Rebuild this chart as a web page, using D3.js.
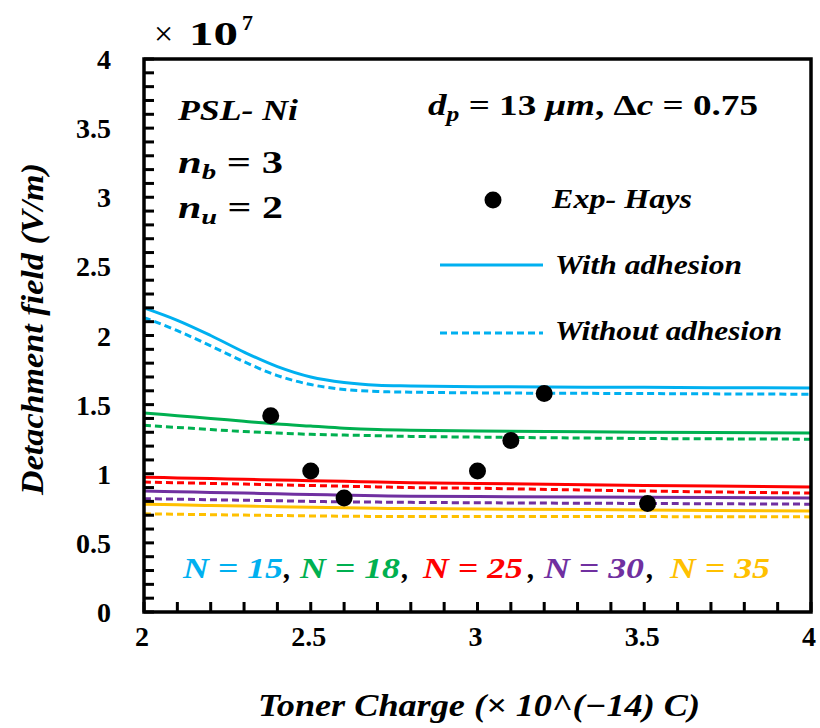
<!DOCTYPE html>
<html>
<head>
<meta charset="utf-8">
<script src="https://cdn.jsdelivr.net/npm/d3@7"></script>
<style>
  html, body { margin: 0; padding: 0; background: #fff; }
  svg { display: block; }
  svg text { font-family: "Liberation Serif"; }
</style>
</head>
<body>
<svg id="chart" width="820" height="728"></svg>
<script>
// ---- data ----
const curveX = [2.0, 2.1, 2.2, 2.3, 2.4, 2.5, 2.6, 2.7, 2.8, 3.0, 3.5, 4.0];
const n15With    = [2.20, 2.11, 2.00, 1.88, 1.775, 1.70, 1.66, 1.64, 1.635, 1.63, 1.625, 1.62];
const n15Without = [2.13, 2.035, 1.925, 1.81, 1.71, 1.645, 1.61, 1.595, 1.59, 1.585, 1.58, 1.575];
const n18With    = [1.44, 1.42, 1.40, 1.38, 1.36, 1.345, 1.33, 1.32, 1.315, 1.31, 1.30, 1.295];
const n18Without = [1.35, 1.335, 1.32, 1.305, 1.295, 1.285, 1.28, 1.275, 1.27, 1.265, 1.255, 1.25];
const n25With    = [0.975, 0.97, 0.965, 0.96, 0.955, 0.95, 0.945, 0.94, 0.935, 0.93, 0.915, 0.905];
const n25Without = [0.94, 0.935, 0.93, 0.925, 0.92, 0.915, 0.91, 0.905, 0.90, 0.895, 0.875, 0.86];
const n30With    = [0.875, 0.87, 0.865, 0.86, 0.855, 0.85, 0.845, 0.84, 0.838, 0.835, 0.83, 0.825];
const n30Without = [0.82, 0.816, 0.812, 0.808, 0.805, 0.80, 0.797, 0.795, 0.793, 0.79, 0.785, 0.78];
const n35With    = [0.78, 0.775, 0.77, 0.766, 0.762, 0.758, 0.754, 0.75, 0.748, 0.745, 0.738, 0.73];
const n35Without = [0.71, 0.707, 0.704, 0.701, 0.698, 0.695, 0.693, 0.691, 0.69, 0.69, 0.69, 0.688];

const expX = [2.38, 2.50, 2.60, 3.00, 3.10, 3.20, 3.51];
const expY = [1.42, 1.02, 0.825, 1.02, 1.24, 1.58, 0.785];

const seriesNames = ["N = 15", "N = 18", "N = 25", "N = 30", "N = 35"];
const seriesColors = ["#00B0F0", "#00B050", "#FF0000", "#7030A0", "#FFC000"];
const withSeries = [n15With, n18With, n25With, n30With, n35With];
const withoutSeries = [n15Without, n18Without, n25Without, n30Without, n35Without];

const xTicks = [2, 2.5, 3, 3.5, 4];
const yTicks = [0, 0.5, 1, 1.5, 2, 2.5, 3, 3.5, 4];

// ---- layout ----
const svg = d3.select("#chart");
const mLeft = 144, mRight = 811, mTop = 59, mBottom = 612;
const x = d3.scaleLinear().domain([2, 4]).range([mLeft, mRight]);
const y = d3.scaleLinear().domain([0, 4]).range([mBottom, mTop]);

// curves
const line = d3.line().x(d => x(d[0])).y(d => y(d[1])).curve(d3.curveCatmullRom.alpha(0.5));
const gCurves = svg.append("g");
for (let i = withSeries.length - 1; i >= 0; i--) {
  gCurves.append("path")
    .attr("d", line(curveX.map((v, j) => [v, withoutSeries[i][j]])))
    .attr("fill", "none").attr("stroke", seriesColors[i])
    .attr("stroke-width", 3).attr("stroke-dasharray", "7,4");
  gCurves.append("path")
    .attr("d", line(curveX.map((v, j) => [v, withSeries[i][j]])))
    .attr("fill", "none").attr("stroke", seriesColors[i])
    .attr("stroke-width", 3);
}

// experimental points
svg.append("g").selectAll("circle").data(expX).join("circle")
  .attr("cx", d => x(d)).attr("cy", (d, i) => y(expY[i]))
  .attr("r", 8.5).attr("fill", "#000");

// frame
svg.append("rect").attr("x", mLeft).attr("y", mTop)
  .attr("width", mRight - mLeft).attr("height", mBottom - mTop)
  .attr("fill", "none").attr("stroke", "black").attr("stroke-width", 3.5);

// inward minor ticks every 0.1 (filled rects)
const xMinor = d3.range(0, 21).map(i => 2 + i * 0.1);
const yMinor = d3.range(0, 41).map(i => i * 0.1);
svg.append("g").selectAll("rect").data(xMinor).join("rect")
  .attr("x", d => x(d) - 1.5).attr("y", mBottom - 10).attr("width", 3).attr("height", 10)
  .attr("fill", "black");
svg.append("g").selectAll("rect").data(yMinor).join("rect")
  .attr("x", mLeft).attr("y", d => y(d) - 1.5).attr("width", 10).attr("height", 3)
  .attr("fill", "black");

const fontOf = () => "Liberation Serif";
function txt(px, py, size, opts = {}) {
  const t = svg.append("text").datum(size).attr("x", px).attr("y", py)
    .attr("font-family", fontOf).attr("font-size", size)
    .attr("font-weight", opts.weight || "bold");
  if (opts.italic) t.attr("font-style", "italic");
  if (opts.anchor) t.attr("text-anchor", opts.anchor);
  if (opts.fill) t.attr("fill", opts.fill);
  if (opts.len) t.attr("textLength", opts.len).attr("lengthAdjust", "spacingAndGlyphs");
  return t;
}

// tick labels
svg.append("g").selectAll("text").data(xTicks).join("text")
  .attr("font-family", fontOf).attr("x", d => x(d) - 2).attr("y", 646)
  .attr("text-anchor", "middle").attr("font-size", 28).attr("font-weight", "bold")
  .text(d => d);
svg.append("g").selectAll("text").data(yTicks).join("text")
  .attr("font-family", fontOf).attr("x", 111).attr("y", d => y(d) + 10)
  .attr("text-anchor", "end").attr("font-size", 28).attr("font-weight", "bold")
  .text(d => d);

// axis titles
txt(258, 716, 31, { italic: true, len: 442 }).text("Toner Charge (× 10^(−14) C)");
svg.append("text").attr("transform", "translate(43,495) rotate(-90)")
  .attr("font-family", fontOf).attr("font-size", 31)
  .attr("font-weight", "bold").attr("font-style", "italic")
  .attr("textLength", 332).attr("lengthAdjust", "spacingAndGlyphs")
  .text("Detachment field (V/m)");

// exponent × 10^7
txt(154, 45, 34, { weight: "normal" }).text("×");
txt(189, 45, 34, { len: 49 }).text("10");
txt(242, 30, 22).text("7");

// annotations
txt(178, 120, 30, { italic: true, len: 120 }).text("PSL- Ni");
function sub(xp, yp, base, s, rest, len) {
  const t = txt(xp, yp, 31, { len });
  t.append("tspan").attr("font-style", "italic").text(base);
  t.append("tspan").attr("font-style", "italic").attr("font-size", 21).attr("dy", 6).text(s);
  t.append("tspan").attr("dy", -6).text(" = " + rest);
}
sub(178, 173, "n", "b", "3", 105);
sub(178, 218, "n", "u", "2", 105);

const dp = txt(428, 115, 29, { len: 330 });
dp.append("tspan").attr("font-style", "italic").text("d");
dp.append("tspan").attr("font-style", "italic").attr("font-size", 20).attr("dy", 6).text("p");
dp.append("tspan").attr("dy", -6).text(" = 13 ");
dp.append("tspan").attr("font-style", "italic").text("μm");
dp.append("tspan").text(", Δ");
dp.append("tspan").attr("font-style", "italic").text("c");
dp.append("tspan").text(" = 0.75");

// legend
svg.append("circle").attr("cx", 493).attr("cy", 200).attr("r", 8.5).attr("fill", "#000");
svg.append("line").attr("x1", 440).attr("x2", 543).attr("y1", 265).attr("y2", 265)
  .attr("stroke", seriesColors[0]).attr("stroke-width", 3);
svg.append("line").attr("x1", 440).attr("x2", 543).attr("y1", 333).attr("y2", 333)
  .attr("stroke", seriesColors[0]).attr("stroke-width", 3).attr("stroke-dasharray", "7,4");
txt(552, 208, 28, { italic: true, len: 140 }).text("Exp- Hays");
txt(555, 274, 28, { italic: true, len: 187 }).text("With adhesion");
txt(555, 340, 28, { italic: true, len: 227 }).text("Without adhesion");

// N labels (coloured) with black commas
const nX = [183, 300, 423, 544, 670];
const commaX = [284, 402, 528, 647];
seriesNames.forEach((n, i) => {
  txt(nX[i], 578, 29, { italic: true, fill: seriesColors[i], len: 100 }).text(n);
});
commaX.forEach(cx => txt(cx, 578, 29, { italic: true }).text(","));
</script>
</body>
</html>
